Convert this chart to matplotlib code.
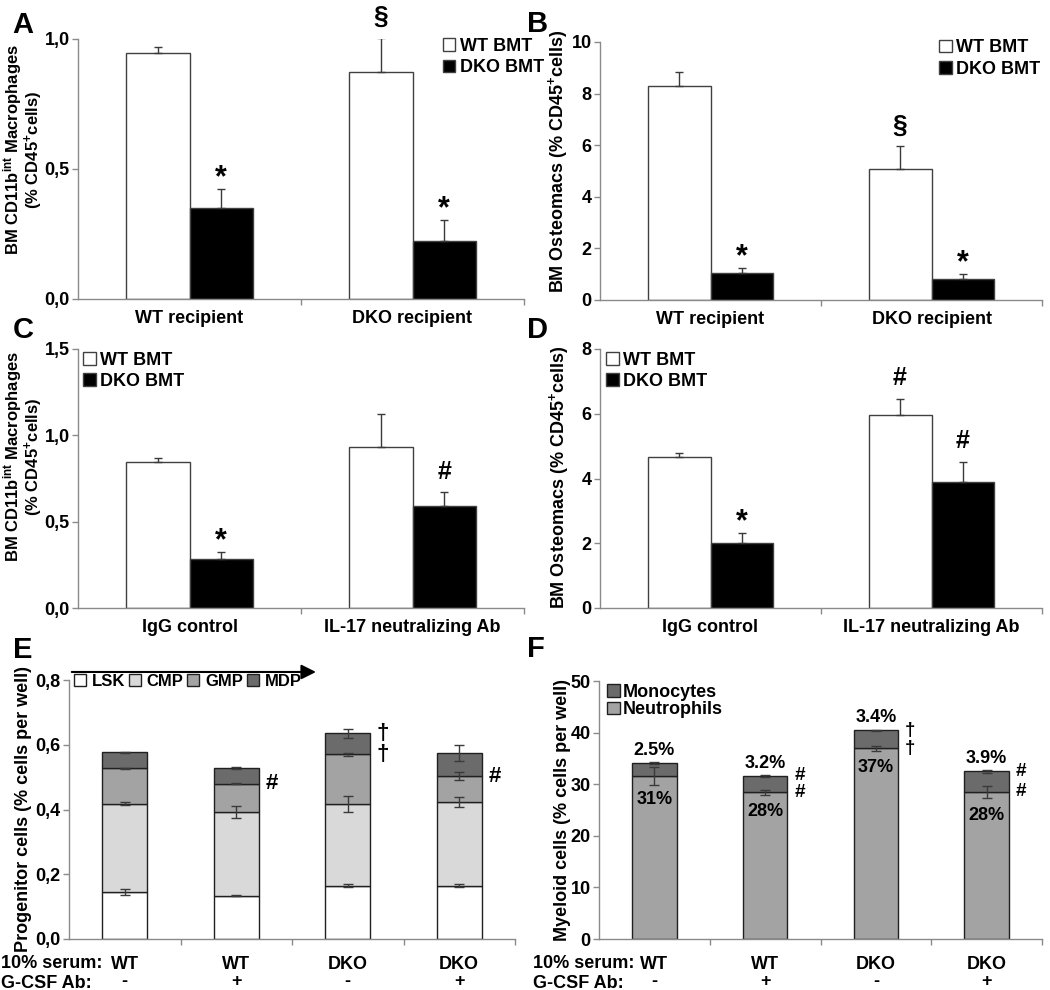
import matplotlib
matplotlib.use('Agg')
import matplotlib.pyplot as plt
import numpy as np

plt.rcParams['font.family'] = ['Liberation Sans', 'DejaVu Sans']
plt.rcParams['font.weight'] = 'bold'
plt.rcParams['axes.labelweight'] = 'bold'
plt.rcParams['mathtext.fontset'] = 'custom'
plt.rcParams['mathtext.rm'] = 'Liberation Sans:bold'
plt.rcParams['mathtext.it'] = 'Liberation Sans:bold'
plt.rcParams['mathtext.bf'] = 'Liberation Sans:bold'
plt.rcParams['mathtext.default'] = 'rm'

# ---- data ----
series_names = ['WT BMT', 'DKO BMT']
cats_ab = ['WT recipient', 'DKO recipient']
cats_cd = ['IgG control', 'IL-17 neutralizing Ab']

a_wt = [0.945, 0.874]
a_wt_err = [0.026, 0.131]
a_dko = [0.349, 0.222]
a_dko_err = [0.073, 0.082]
a_ticks = [0.0, 0.5, 1.0]
a_ticklabels = ['0,0', '0,5', '1,0']
a_marks = [(0, 1, '*'), (1, 0, '§'), (1, 1, '*')]

b_wt = [8.30, 5.08]
b_wt_err = [0.53, 0.87]
b_dko = [1.03, 0.81]
b_dko_err = [0.20, 0.19]
b_ticks = [0, 2, 4, 6, 8, 10]
b_ticklabels = ['0', '2', '4', '6', '8', '10']
b_marks = [(0, 1, '*'), (1, 0, '§'), (1, 1, '*')]

c_wt = [0.848, 0.935]
c_wt_err = [0.023, 0.190]
c_dko = [0.281, 0.593]
c_dko_err = [0.043, 0.076]
c_ticks = [0.0, 0.5, 1.0, 1.5]
c_ticklabels = ['0,0', '0,5', '1,0', '1,5']
c_marks = [(0, 1, '*'), (1, 1, '#')]

d_wt = [4.67, 5.96]
d_wt_err = [0.13, 0.49]
d_dko = [2.00, 3.90]
d_dko_err = [0.31, 0.61]
d_ticks = [0, 2, 4, 6, 8]
d_ticklabels = ['0', '2', '4', '6', '8']
d_marks = [(0, 1, '*'), (1, 0, '#'), (1, 1, '#')]

serum = ['WT', 'WT', 'DKO', 'DKO']
gcsf = ['-', '+', '-', '+']

e_names = ['LSK', 'CMP', 'GMP', 'MDP']
e_colors = ['white', '#d9d9d9', '#a3a3a3', '#6b6b6b']
lsk = [0.144, 0.134, 0.165, 0.165]
cmp_ = [0.274, 0.259, 0.253, 0.259]
gmp = [0.109, 0.087, 0.153, 0.079]
mdp = [0.050, 0.047, 0.064, 0.071]
lsk_err = [0.009, 0.002, 0.004, 0.004]
cmp_err = [0.004, 0.019, 0.025, 0.015]
gmp_err = [0.002, 0.002, 0.005, 0.012]
mdp_err = [0.002, 0.003, 0.013, 0.024]
e_ticks = [0.0, 0.2, 0.4, 0.6, 0.8]
e_ticklabels = ['0,0', '0,2', '0,4', '0,6', '0,8']
e_marks = [(1, 2, '#'), (2, 3, '†'), (2, 2, '†'), (3, 2, '#')]

neut = [31.6, 28.4, 37.0, 28.5]
mono = [2.5, 3.2, 3.5, 4.0]
neut_err = [1.7, 0.4, 0.5, 1.2]
mono_err = [0.2, 0.2, 0.1, 0.3]
neut_lbl = ['31%', '28%', '37%', '28%']
mono_lbl = ['2.5%', '3.2%', '3.4%', '3.9%']
f_ticks = [0, 10, 20, 30, 40, 50]
f_marks = [(1, 1, '#'), (1, 0, '#'), (2, 1, '†'), (2, 0, '†'), (3, 1, '#'), (3, 0, '#')]

FS = 13
ECOL = '#3a3a3a'
AXCOL = '#8a8a8a'
MARK_FS = {'*': 22, '§': 19, '#': 18, '†': 18}

fig = plt.figure(figsize=(10.5, 9.9), dpi=100)


def pos(l, t, r, b):
    return [l / 1050, 1 - b / 990, (r - l) / 1050, (b - t) / 990]


def style_axes(ax, ncat, ticks, ticklabels, ymax):
    for s in ['top', 'right']:
        ax.spines[s].set_visible(False)
    for s in ['left', 'bottom']:
        ax.spines[s].set_color(AXCOL)
        ax.spines[s].set_linewidth(1)
    ax.set_xlim(-0.5, ncat - 0.5)
    ax.set_ylim(0, ymax)
    ax.set_yticks(ticks)
    ax.set_yticklabels(ticklabels)
    ax.tick_params(axis='y', length=4, width=1, color=AXCOL, labelsize=FS, pad=2)
    ax.set_xticks(np.arange(ncat) + 0.5, minor=True)
    ax.tick_params(axis='x', which='minor', length=4, width=1, color=AXCOL)
    ax.tick_params(axis='x', which='major', length=0, labelsize=FS)


def grouped(ax, cats, wt, wt_err, dko, dko_err, ticks, ticklabels, marks, leg_xy, ylabel, lab_xy, lab_fs):
    x = np.arange(len(cats))
    w = 0.285
    b1 = ax.bar(x - w, wt, w, align='edge', color='white', edgecolor='#404040', lw=1, label=series_names[0], zorder=2)
    b2 = ax.bar(x, dko, w, align='edge', color='black', edgecolor='#404040', lw=1, label=series_names[1], zorder=2)
    ax.errorbar(x - w / 2, wt, yerr=[np.zeros(len(wt)), wt_err], fmt='none', ecolor=ECOL, elinewidth=1, capsize=3, capthick=1, zorder=3)
    ax.errorbar(x + w / 2, dko, yerr=[np.zeros(len(dko)), dko_err], fmt='none', ecolor=ECOL, elinewidth=1, capsize=3, capthick=1, zorder=3)
    style_axes(ax, len(cats), ticks, ticklabels, ticks[-1])
    ax.set_xticks(x)
    ax.set_xticklabels(cats)
    ax.tick_params(axis='x', which='major', pad=8)
    vals = [wt, dko]
    errs = [wt_err, dko_err]
    for c, s, sym in marks:
        xc = x[c] - w / 2 if s == 0 else x[c] + w / 2
        top = vals[s][c] + errs[s][c]
        off = 8 if sym == '*' else 15
        ax.annotate(sym, xy=(xc, top), xytext=(0, off), textcoords='offset points',
                    ha='center', va='center', fontsize=MARK_FS[sym], annotation_clip=False)
    ax.legend(handles=[b1, b2], loc='upper left', bbox_to_anchor=leg_xy, frameon=False, fontsize=FS,
              handlelength=0.7, handleheight=0.7, handletextpad=0.25, labelspacing=0.25,
              borderpad=0, borderaxespad=0)
    ax.set_ylabel(ylabel, fontsize=lab_fs, linespacing=0.95)
    ax.yaxis.set_label_coords(*lab_xy)


# ---- A ----
axA = fig.add_axes(pos(78, 39, 524, 299))
grouped(axA, cats_ab, a_wt, a_wt_err, a_dko, a_dko_err, a_ticks, a_ticklabels, a_marks,
        (0.818, 1.005), 'BM CD11b$^{int}$ Macrophages\n(% CD45$^{+}$cells)', (-0.074, 0.575), 12)
# ---- B ----
axB = fig.add_axes(pos(600, 42, 1042, 300))
grouped(axB, cats_ab, b_wt, b_wt_err, b_dko, b_dko_err, b_ticks, b_ticklabels, b_marks,
        (0.767, 1.01), 'BM Osteomacs (% CD45$^{+}$cells)', (-0.068, 0.537), FS)
# ---- C ----
axC = fig.add_axes(pos(78, 349, 524, 608))
grouped(axC, cats_cd, c_wt, c_wt_err, c_dko, c_dko_err, c_ticks, c_ticklabels, c_marks,
        (0.011, 0.99), 'BM CD11b$^{int}$ Macrophages\n(% CD45$^{+}$cells)', (-0.074, 0.585), 12)
# ---- D ----
axD = fig.add_axes(pos(600, 349, 1042, 608))
grouped(axD, cats_cd, d_wt, d_wt_err, d_dko, d_dko_err, d_ticks, d_ticklabels, d_marks,
        (0.014, 0.99), 'BM Osteomacs (% CD45$^{+}$cells)', (-0.066, 0.505), FS)

# ---- E ----
axE = fig.add_axes(pos(69, 680, 515, 939))
x = np.arange(4)
bw = 0.40
segs = [lsk, cmp_, gmp, mdp]
serrs = [lsk_err, cmp_err, gmp_err, mdp_err]
bottom = np.zeros(4)
handles = []
tops = []
for seg, err, name, col in zip(segs, serrs, e_names, e_colors):
    h = axE.bar(x, seg, bw, bottom=bottom, color=col, edgecolor='#202020', lw=1, label=name, zorder=2)
    handles.append(h)
    top = bottom + np.array(seg)
    axE.errorbar(x, top, yerr=err, fmt='none', ecolor=ECOL, elinewidth=1, capsize=3.5, capthick=1, zorder=3)
    tops.append(top)
    bottom = top
style_axes(axE, 4, e_ticks, e_ticklabels, 0.8)
axE.set_xticks(x)
axE.set_xticklabels([a + '\n' + b for a, b in zip(serum, gcsf)], linespacing=1.05)
axE.tick_params(axis='x', which='major', pad=12)
for c, lvl, sym in e_marks:
    axE.annotate(sym, xy=(x[c] + bw / 2, tops[lvl][c]), xytext=(5, 0), textcoords='offset points',
                 ha='left', va='center', fontsize=16, annotation_clip=False)
axE.legend(handles=handles, loc='upper left', bbox_to_anchor=(0.011, 1.025), ncol=4, frameon=False,
           fontsize=12, handlelength=0.7, handleheight=0.7, handletextpad=0.35, columnspacing=0.25,
           borderpad=0, borderaxespad=0)
axE.annotate('', xy=(0.56, 1.031), xytext=(0.0, 1.031), xycoords='axes fraction',
             arrowprops=dict(arrowstyle='-|>', color='black', lw=1.5, mutation_scale=22),
             annotation_clip=False)
axE.set_ylabel('Progenitor cells (% cells per well)', fontsize=FS)
axE.yaxis.set_label_coords(-0.083, 0.5)

# ---- F ----
axF = fig.add_axes(pos(599, 681, 1042, 939))
hn = axF.bar(x, neut, bw, color='#a3a3a3', edgecolor='#202020', lw=1, label='Neutrophils', zorder=2)
tot = np.array(neut) + np.array(mono)
hm = axF.bar(x, mono, bw, bottom=neut, color='#6b6b6b', edgecolor='#202020', lw=1, label='Monocytes', zorder=2)
axF.errorbar(x, neut, yerr=neut_err, fmt='none', ecolor=ECOL, elinewidth=1, capsize=3.5, capthick=1, zorder=3)
axF.errorbar(x, tot, yerr=mono_err, fmt='none', ecolor=ECOL, elinewidth=1, capsize=3.5, capthick=1, zorder=3)
style_axes(axF, 4, f_ticks, [str(t) for t in f_ticks], 50)
axF.set_xticks(x)
axF.set_xticklabels([a + '\n' + b for a, b in zip(serum, gcsf)], linespacing=1.05)
axF.tick_params(axis='x', which='major', pad=12)
for i in range(4):
    axF.annotate(mono_lbl[i], xy=(x[i], tot[i]), xytext=(0, 9), textcoords='offset points',
                 ha='center', va='center', fontsize=FS)
    axF.annotate(neut_lbl[i], xy=(x[i], neut[i]), xytext=(0, -14 - 3 * (neut_err[i] > 1)), textcoords='offset points',
                 ha='center', va='center', fontsize=FS)
ftops = [np.array(neut), tot]
for c, lvl, sym in f_marks:
    axF.annotate(sym, xy=(x[c] + bw / 2, ftops[lvl][c]), xytext=(5, 0), textcoords='offset points',
                 ha='left', va='center', fontsize=13.5, annotation_clip=False)
axF.legend(handles=[hm, hn], loc='upper left', bbox_to_anchor=(0.018, 0.99), frameon=False,
           fontsize=FS, handlelength=0.7, handleheight=0.7, handletextpad=0.2, labelspacing=0.05,
           borderpad=0, borderaxespad=0)
axF.set_ylabel('Myeloid cells (% cells per well)', fontsize=FS)
axF.yaxis.set_label_coords(-0.063, 0.5)

# row headers under E and F
for xl in [1, 533]:
    fig.text(xl / 1050, 1 - 963 / 990, '10% serum:', fontsize=FS, va='center', ha='left')
    fig.text(xl / 1050, 1 - 983 / 990, 'G-CSF Ab:', fontsize=FS, va='center', ha='left')

# panel letters
for lt, lx, ly in [('A', 12, 33), ('B', 527, 32), ('C', 13, 338), ('D', 527, 338), ('E', 13, 658), ('F', 527, 657)]:
    fig.text(lx / 1050, 1 - ly / 990, lt, fontsize=21, fontweight='bold', va='baseline', ha='left')

fig.savefig('out.png', dpi=100)
